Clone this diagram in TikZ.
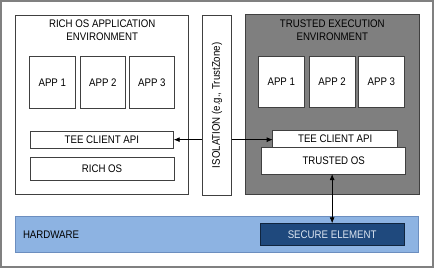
\documentclass[tikz,border=0pt]{standalone}
\usepackage{fontspec}
\setmainfont{Liberation Sans}[FakeStretch=0.88]
\usetikzlibrary{arrows.meta}
\definecolor{bordergray}{HTML}{404040}
\definecolor{outergray}{HTML}{808080}
\definecolor{teegray}{HTML}{7F7F7F}
\definecolor{hwblue}{HTML}{8DB3E2}
\definecolor{hwborder}{HTML}{6C8EBF}
\definecolor{seblue}{HTML}{1F497D}
\definecolor{seborder}{HTML}{10253F}
\definecolor{setext}{HTML}{DCE6F2}
\begin{document}
\begin{tikzpicture}[x=1pt,y=-1pt,
  every node/.style={font=\fontsize{11}{13}\selectfont, inner sep=0pt, outer sep=0pt},
  box/.style={draw=bordergray, line width=0.9pt, fill=white, anchor=north west, align=center},
  container/.style={draw=bordergray, line width=0.9pt, anchor=north west},
  title/.style={align=center, text=black},
  conn/.style={line width=0.8pt, black, {Latex[length=6pt,width=5pt]}-{Latex[length=6pt,width=5pt]}}
]
\useasboundingbox (0,0) rectangle (435,269);
\node[draw=outergray, line width=1.2pt, anchor=north west, minimum width=432pt, minimum height=266pt] (outer) at (1,1) {};

% rich OS side
\node[container, fill=white, minimum width=173pt, minimum height=179pt] (rich) at (15.7,15) {};
\node[title] (richtitle) at (102.2,30.5) {RICH OS APPLICATION\\ENVIRONMENT};
\node[box, minimum width=46pt, minimum height=52pt] (lapp1) at (29.3,56.7) {APP 1};
\node[box, minimum width=45.7pt, minimum height=52pt] (lapp2) at (80,56.7) {APP 2};
\node[box, minimum width=45.7pt, minimum height=52pt] (lapp3) at (129,56.7) {APP 3};
\node[box, minimum width=143.7pt, minimum height=17.3pt] (lapi) at (30,131) {TEE CLIENT API};
\node[box, minimum width=144pt, minimum height=23pt] (richos) at (30,157.3) {RICH OS};

% trusted side
\node[container, fill=teegray, minimum width=173.3pt, minimum height=179.3pt] (tee) at (245.7,14.7) {};
\node[title] (teetitle) at (332.3,30.5) {TRUSTED EXECUTION\\ENVIRONMENT};
\node[box, minimum width=46pt, minimum height=51.7pt] (rapp1) at (258.3,56) {APP 1};
\node[box, minimum width=45.7pt, minimum height=51.7pt] (rapp2) at (309.3,56) {APP 2};
\node[box, minimum width=46pt, minimum height=51.7pt] (rapp3) at (358.3,56) {APP 3};
\node[box, minimum width=125pt, minimum height=17.3pt] (rapi) at (272.7,130) {TEE CLIENT API};
\node[box, minimum width=144pt, minimum height=26.7pt] (tos) at (261.7,147.3) {TRUSTED OS};

% hardware
\node[draw=hwborder, line width=0.9pt, fill=hwblue, anchor=north west, minimum width=402.6pt, minimum height=36pt] (hw) at (15.7,216.7) {};
\node[anchor=west, text=black] (hwlabel) at (23,234.5) {HARDWARE};
\node[draw=seborder, line width=0.9pt, fill=seblue, text=setext, anchor=north west, minimum width=144.3pt, minimum height=22.4pt] (se) at (260,223.3) {SECURE ELEMENT};

% connectors
\draw[conn] (lapi.east) -- (rapi.west |- lapi.east);
\draw[conn] (se.north |- tos.south) -- (se.north);

% isolation (drawn on top of the connector)
\node[box, minimum width=29.4pt, minimum height=180.7pt] (iso) at (202.3,15) {};
\node[rotate=90, text=black] (isolabel) at (iso.center) {ISOLATION (e.g., TrustZone)};
\end{tikzpicture}
\end{document}
